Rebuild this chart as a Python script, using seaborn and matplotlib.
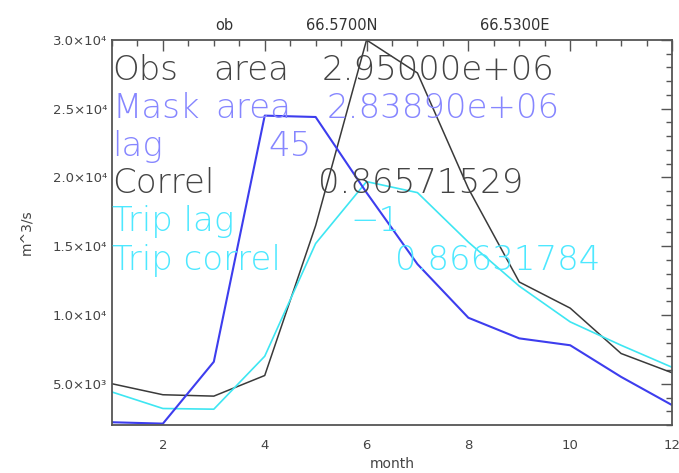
import pandas as pd
import numpy as np
import matplotlib
matplotlib.use("Agg")
import matplotlib.pyplot as plt
from matplotlib.ticker import MultipleLocator, FixedLocator
import seaborn as sns

# monthly flows
months = [1, 2, 3, 4, 5, 6, 7, 8, 9, 10, 11, 12]
obs_flow = [5000, 4200, 4100, 5600, 16500, 30000, 27600, 19200, 12400, 10500, 7200, 5800]
mask_flow = [2200, 2100, 6600, 24500, 24400, 18900, 13700, 9800, 8300, 7800, 5500, 3450]
trip_flow = [4400, 3200, 3150, 7000, 15200, 19700, 18900, 15300, 12100, 9500, 7800, 6200]

y_ticks = [5000, 10000, 15000, 20000, 25000, 30000]
y_tick_labels = ["5.0×10³", "1.0×10⁴", "1.5×10⁴", "2.0×10⁴", "2.5×10⁴", "3.0×10⁴"]
x_ticks = [2, 4, 6, 8, 10, 12]

header = ["ob", "66.5700N", "66.5300E"]
info_labels = ["Obs", "Mask", "lag", "Correl", "Trip lag", "Trip correl"]
info_values = ["2.95000e+06", "2.83890e+06", "45", "0.86571529", "\u22121", "0.86631784"]

W, H = 679, 473
sns.set_style("white")
fig = plt.figure(figsize=(W / 100, H / 100), dpi=100)
ax = fig.add_axes([112 / W, 1 - 425 / H, (672 - 112) / W, (425 - 40) / H])

df = pd.DataFrame({"month": months, "obs": obs_flow, "mask": mask_flow, "trip": trip_flow})
sns.lineplot(data=df, x="month", y="obs", color="#3a3a3a", linewidth=1.1, ax=ax)
sns.lineplot(data=df, x="month", y="trip", color="#3ee6f2", linewidth=1.2, ax=ax)
sns.lineplot(data=df, x="month", y="mask", color="#3d3dee", linewidth=1.5, ax=ax)

ax.set_xlim(1, 12)
ax.set_ylim(2000, 30000)
ax.xaxis.set_major_locator(FixedLocator(x_ticks))
ax.xaxis.set_minor_locator(MultipleLocator(0.5))
ax.yaxis.set_major_locator(FixedLocator(y_ticks))
ax.yaxis.set_minor_locator(MultipleLocator(1000))
ax.set_yticklabels(y_tick_labels)
ax.tick_params(which="both", direction="in", top=True, right=True, colors="#555555",
               labelcolor="#444444", labelsize=9.5, width=1.0)
ax.tick_params(which="major", length=8)
ax.tick_params(which="minor", length=4)
ax.tick_params(axis="x", pad=10)
for s in ax.spines.values():
    s.set_color("#555555")
    s.set_linewidth(1.3)
ax.set_xlabel("month", fontsize=10, color="#444444", labelpad=4)
ax.set_ylabel("m^3/s", fontsize=10, color="#444444", labelpad=14)

# header above the plot
for txt, xc in zip(header, [224, 342, 515]):
    fig.text(xc / W, 1 - 30 / H, txt, ha="center", va="baseline", fontsize=10.5,
             color="#333333")

# statistics printed over the plot
colors = ["#444444", "#8686ff", "#8686ff", "#444444", "#4de8ff", "#4de8ff"]
baselines = [80, 118, 156, 193, 231, 270]
value_x = [322, 327, 268, 318, 350, 395]
kw = dict(ha="left", va="baseline", fontsize=24.5, fontweight="light")
for lab, val, c, yb, vx in zip(info_labels, info_values, colors, baselines, value_x):
    fig.text(112 / W, 1 - yb / H, lab, color=c, **kw)
    fig.text(vx / W, 1 - yb / H, val, color=c, **kw)
fig.text(213 / W, 1 - 80 / H, "area", color=colors[0], **kw)
fig.text(215 / W, 1 - 118 / H, "area", color=colors[1], **kw)

fig.savefig("out.png", dpi=100)
